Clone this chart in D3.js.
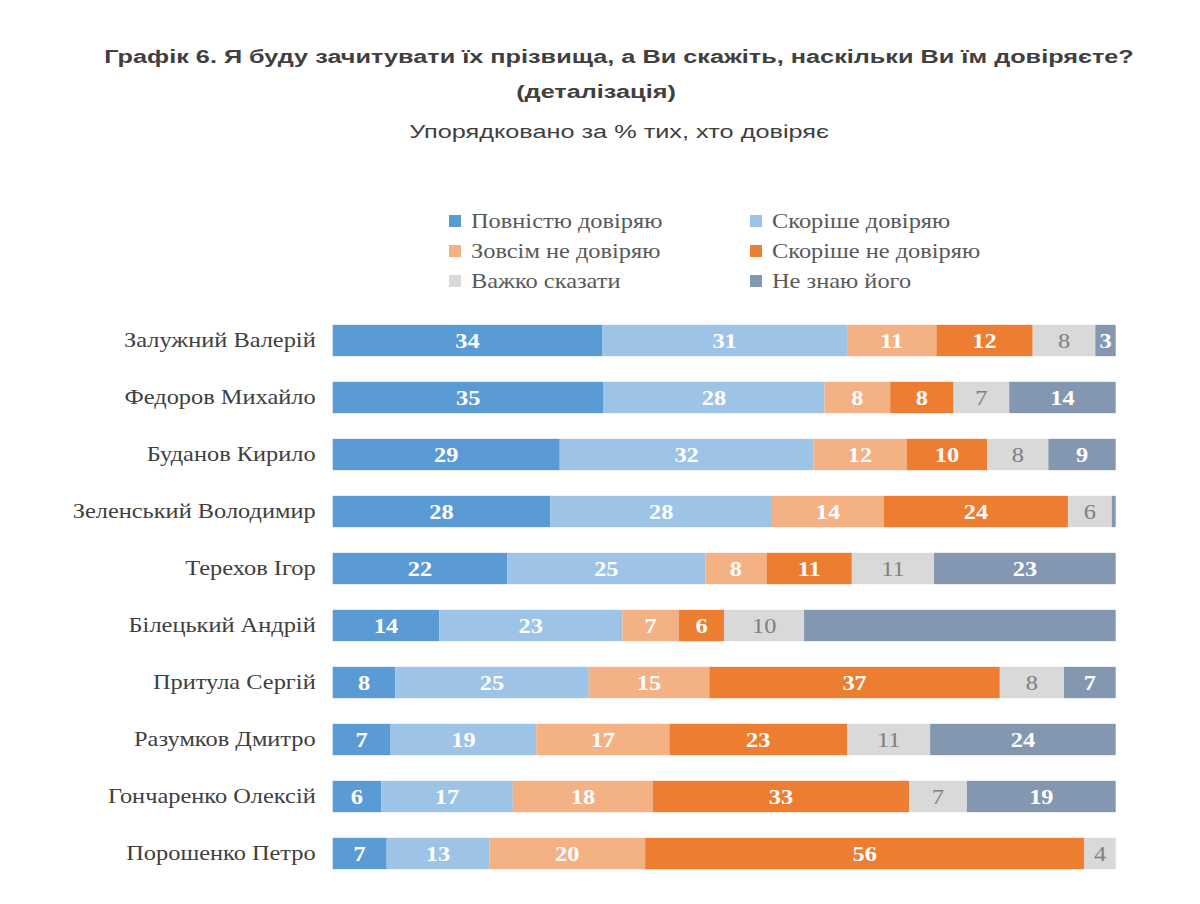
<!DOCTYPE html>
<html><head><meta charset="utf-8">
<script src="https://cdn.jsdelivr.net/npm/d3@7"></script>
<style>body{margin:0;background:#fff}</style>
</head><body>
<svg id="chart" width="1200" height="904"></svg>
<script>
const categories = ["Залужний Валерій","Федоров Михайло","Буданов Кирило","Зеленський Володимир","Терехов Ігор","Білецький Андрій","Притула Сергій","Разумков Дмитро","Гончаренко Олексій","Порошенко Петро"];
const seriesNames = ["Повністю довіряю","Скоріше довіряю","Зовсім не довіряю","Скоріше не довіряю","Важко сказати","Не знаю його"];
const fullyTrust   = [34.4,34.6,29.0,27.8,22.3,13.6, 8.0, 7.4, 6.2, 6.9];
const ratherTrust  = [31.3,28.2,32.4,28.3,25.3,23.4,24.7,18.6,16.8,13.1];
const notAtAll     = [11.4, 8.4,11.9,14.3, 7.8, 7.2,15.4,17.0,17.9,19.9];
const ratherNot    = [12.3, 8.1,10.3,23.5,10.9, 5.8,37.1,22.7,32.7,56.1];
const hardToSay    = [ 8.0, 7.1, 7.8, 5.6,10.5,10.2, 8.2,10.6, 7.4, 4.0];
const dontKnow     = [ 2.6,13.6, 8.6, 0.5,23.2,39.8, 6.6,23.7,19.0, 0.0];
// segments whose label is not shown in the original: [row, series]
const hiddenLabels = [[3,5],[5,5],[9,5]];

const series = [fullyTrust, ratherTrust, notAtAll, ratherNot, hardToSay, dontKnow];
const colors = ["#5B9BD5","#9DC3E6","#F4B183","#ED7D31","#D9D9D9","#8497B0"];
const labelColors = ["#fff","#fff","#fff","#fff","#7f7f7f","#fff"];

const svg = d3.select("#chart");
const serif = "'Liberation Serif','Times New Roman',serif";
const sans = "'Liberation Sans',Arial,sans-serif";
const SANS_STRETCH = 1.33, SERIF_STRETCH = 1.22;

function stretchedText(parent, px, py, stretch){
  return parent.append("text").attr("transform",`translate(${px},${py}) scale(${stretch},1)`);
}

// titles
stretchedText(svg,619,63,SANS_STRETCH).attr("text-anchor","middle")
  .attr("font-family",sans).attr("font-weight","bold").attr("font-size",19).attr("fill","#404040")
  .text("Графік 6. Я буду зачитувати їх прізвища, а Ви скажіть, наскільки Ви їм довіряєте?");
stretchedText(svg,596,98,SANS_STRETCH).attr("text-anchor","middle")
  .attr("font-family",sans).attr("font-weight","bold").attr("font-size",19).attr("fill","#404040")
  .text("(деталізація)");
stretchedText(svg,619,138,SANS_STRETCH).attr("text-anchor","middle")
  .attr("font-family",sans).attr("font-size",19).attr("fill","#404040")
  .text("Упорядковано за % тих, хто довіряє");

// legend
const legend = svg.append("g");
seriesNames.forEach((n,i)=>{
  const col = i%2, row = Math.floor(i/2);
  const g = legend.append("g").attr("transform",`translate(${col?750:449},${221+row*30})`);
  g.append("rect").attr("x",0).attr("y",-6).attr("width",12).attr("height",12).attr("fill",colors[i]);
  stretchedText(g,22,7,SERIF_STRETCH).attr("font-family",serif).attr("font-size",20).attr("fill","#595959").text(n);
});

// scales
const x = d3.scaleLinear().domain([0,100]).range([332.7,1115.7]);
const y = d3.scaleBand().domain(categories).range([312,882]).paddingInner(0.45).paddingOuter(0.225);

const yAxis = svg.append("g").attr("transform","translate(332.7,0)").call(d3.axisLeft(y).tickSize(0).tickPadding(17));
yAxis.select(".domain").remove();
yAxis.selectAll("text").attr("font-family",serif).attr("font-size",20).attr("fill","#404040")
  .attr("x",-17/SERIF_STRETCH).attr("transform",`scale(${SERIF_STRETCH},1)`);

const rows = categories.map((c,r)=>{
  let acc = 0;
  return series.map((s,k)=>{ const d={row:r,k,cat:c,v:s[r],x0:acc}; acc+=s[r]; return d; });
});
const flat = rows.flat();
const isHidden = d => hiddenLabels.some(h=>h[0]===d.row && h[1]===d.k);

svg.append("g").selectAll("rect").data(flat).join("rect")
  .attr("x",d=>x(d.x0)).attr("y",d=>y(d.cat))
  .attr("width",d=>x(d.x0+d.v)-x(d.x0)).attr("height",y.bandwidth())
  .attr("fill",d=>colors[d.k]);

svg.append("g").selectAll("text").data(flat.filter(d=>d.v>0 && !isHidden(d))).join("text")
  .attr("transform",d=>`translate(${(x(d.x0)+x(d.x0+d.v))/2},${y(d.cat)+y.bandwidth()/2}) scale(${SERIF_STRETCH},1)`)
  .attr("dy","0.35em").attr("text-anchor","middle")
  .attr("font-family",serif).attr("font-size",20).attr("font-weight",d=>d.k===4?"normal":"bold")
  .attr("fill",d=>labelColors[d.k]).text(d=>Math.round(d.v));
</script>
</body></html>
